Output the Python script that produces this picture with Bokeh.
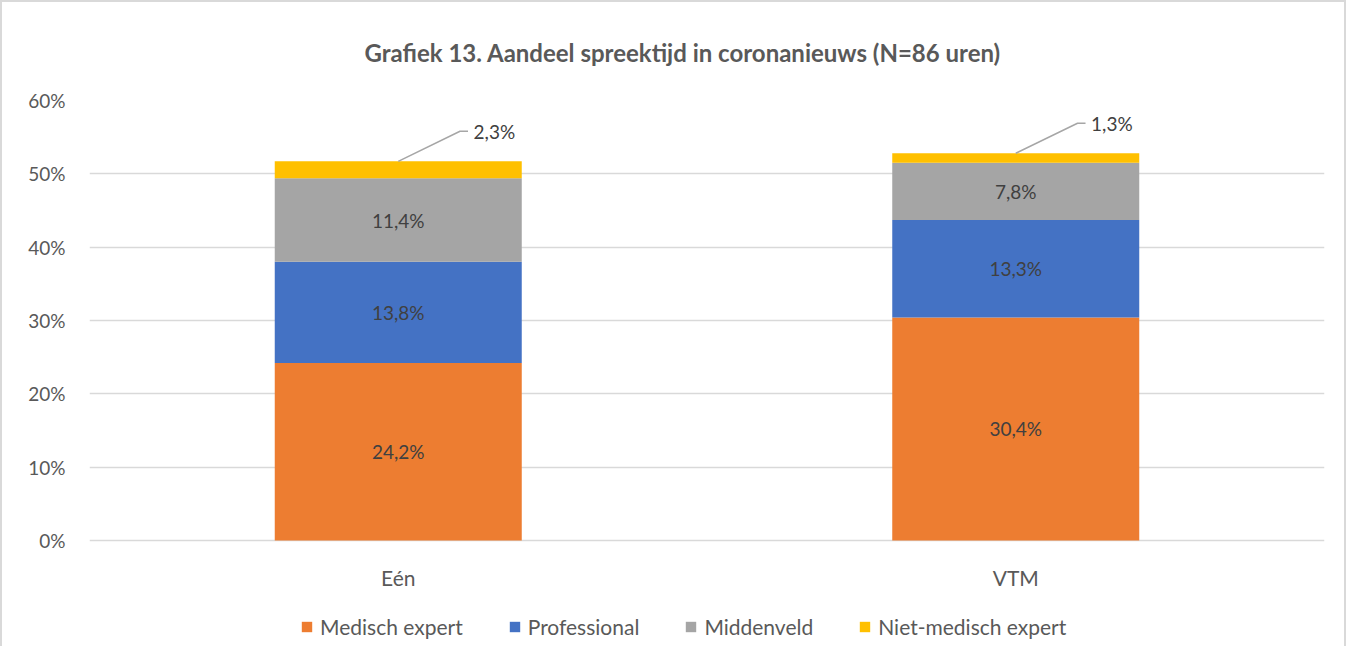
from bokeh.plotting import figure
from bokeh.models import ColumnDataSource, FixedTicker, Legend, LegendItem, PrintfTickFormatter
from bokeh.core.properties import value
from bokeh.embed import file_html
from bokeh.resources import INLINE

# ---- data ----
channels = ["Eén", "VTM"]
categories = ["Medisch expert", "Professional", "Middenveld", "Niet-medisch expert"]
medisch = [24.2, 30.4]
professional = [13.8, 13.3]
middenveld = [11.4, 7.8]
niet_medisch = [2.3, 1.3]
y_ticks = [0, 10, 20, 30, 40, 50, 60]
colors = ["#ED7D31", "#4472C4", "#A5A5A5", "#FFC000"]

FONT = "Lato"
x_pos = list(range(len(channels)))
keys = ["medisch", "professional", "middenveld", "niet_medisch"]
series = [medisch, professional, middenveld, niet_medisch]
src = ColumnDataSource(dict(x=x_pos, **{k: v for k, v in zip(keys, series)}))

# frame extends below 0% to hold category labels and legend
p = figure(width=1346, height=646, output_backend="svg", toolbar_location=None,
           x_range=(-0.5, len(channels) - 0.5), y_range=(-14.2, 60),
           min_border_left=87, min_border_right=24, min_border_top=96, min_border_bottom=4,
           title="Grafiek 13. Aandeel spreektijd in coronanieuws (N=86 uren)")
p.styles = {"border-left": "2px solid #d9d9d9", "border-top": "2px solid #d9d9d9",
            "border-right": "2px solid #d9d9d9"}
p.outline_line_color = None
p.title.align = "left"
p.title.offset = 275
p.title.text_font = FONT
p.title.text_font_style = "bold"
p.title.text_font_size = "24px"
p.title.text_color = "#595959"
p.title.standoff = 67

rends = p.vbar_stack(keys, x="x", width=0.4, source=src, color=colors, line_color=None)

# axes
p.xaxis.visible = False
yax = p.yaxis[0]
yax.ticker = FixedTicker(ticks=y_ticks)
yax.formatter = PrintfTickFormatter(format="%d%%")
yax.axis_line_color = None
yax.major_tick_line_color = None
yax.minor_tick_line_color = None
yax.major_label_text_font = FONT
yax.major_label_text_font_size = "19px"
yax.major_label_text_color = "#595959"
yax.major_label_standoff = 18
p.xgrid.grid_line_color = None
p.ygrid.grid_line_color = "#d9d9d9"
p.ygrid.grid_line_width = 1.5
p.ygrid.ticker = FixedTicker(ticks=y_ticks)

# category labels under the bars
p.text(x=x_pos, y=[0] * len(x_pos), text=channels, y_offset=37, text_font=value(FONT),
       text_font_size="21px", text_color="#595959", text_align="center", text_baseline="middle")

# data labels inside segments (first three series)
def fmt(v):
    return f"{v:.1f}%".replace(".", ",")

lx, ly, lt = [], [], []
for i in x_pos:
    base = 0.0
    for s in series[:3]:
        lx.append(i)
        ly.append(base + s[i] / 2)
        lt.append(fmt(s[i]))
        base += s[i]
p.text(x=lx, y=ly, text=lt, text_font=value(FONT), text_font_size="19px",
       text_color="#404040", text_align="center", text_baseline="middle")

# leader lines + labels for the small top segment
ox, oy, ot = [], [], []
for i in x_pos:
    top = sum(s[i] for s in series)
    yy = top + 4.1
    p.line(x=[i, i + 0.1, i + 0.113], y=[top, yy, yy], line_color="#a6a6a6", line_width=1.5)
    ox.append(i + 0.122)
    oy.append(yy)
    ot.append(fmt(niet_medisch[i]))
p.text(x=ox, y=oy, text=ot, text_font=value(FONT), text_font_size="19px",
       text_color="#404040", text_align="left", text_baseline="middle")

legend = Legend(items=[LegendItem(label=c, renderers=[r]) for c, r in zip(categories, rends)],
                orientation="horizontal", location=(211, 5),
                glyph_width=13, glyph_height=13, label_standoff=7, spacing=45,
                padding=0, margin=0, border_line_color=None, background_fill_alpha=0,
                label_text_font=FONT, label_text_font_size="21px", label_text_color="#595959")
p.add_layout(legend, "center")

open("out.html", "w").write(file_html(p, INLINE))
